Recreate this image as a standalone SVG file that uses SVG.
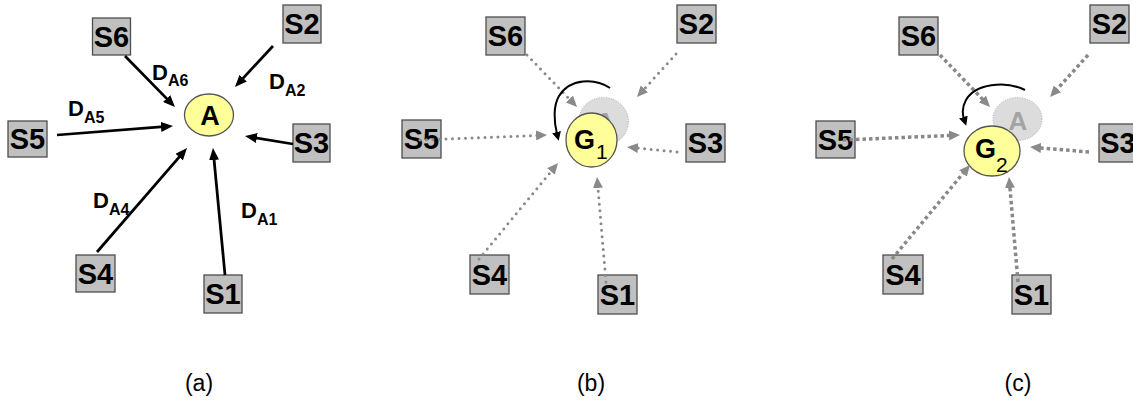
<svg xmlns="http://www.w3.org/2000/svg" width="1133" height="400" viewBox="0 0 1133 400">
  <style>
    .box { fill: #c0c0c0; stroke: #4d4d4d; stroke-width: 1.3; }
    .blab { font-family: "Liberation Sans", Arial, sans-serif; font-weight: bold; font-size: 29px; fill: #000; text-anchor: middle; }
    .hub { fill: #ffff99; stroke: #555; stroke-width: 1.3; }
    .ghost { fill: #dcdcdc; stroke: #a8a8a8; stroke-width: 1; stroke-dasharray: 1 1.5; }
    .hubtxt { font-family: "Liberation Sans", Arial, sans-serif; font-weight: bold; font-size: 27px; fill: #000; }
    .ghosttxt { font-family: "Liberation Sans", Arial, sans-serif; font-weight: bold; font-size: 26px; fill: #a3a3a3; text-anchor: middle; }
    .sub { font-family: "Liberation Sans", Arial, sans-serif; font-size: 21px; fill: #000; }
    .dl { font-family: "Liberation Sans", Arial, sans-serif; font-weight: bold; font-size: 22px; fill: #000; }
    .ds { font-family: "Liberation Sans", Arial, sans-serif; font-weight: bold; font-size: 16px; fill: #000; }
    .cap { font-family: "Liberation Sans", Arial, sans-serif; font-size: 23px; fill: #000; text-anchor: middle; }
    .solid { stroke: #000; stroke-width: 2.75; fill: none; marker-end: url(#headBlack); }
    .dots { stroke: #8a8a8a; stroke-width: 3; fill: none; stroke-linecap: round; stroke-dasharray: 0 6.5; marker-end: url(#headGray); }
    .dash { stroke: #888; stroke-width: 3.5; fill: none; stroke-dasharray: 3.5 3; marker-end: url(#headGray); }
    .turn { stroke: #000; stroke-width: 2; fill: none; marker-end: url(#headTurn); }
  </style>
  <defs>
    <marker id="headBlack" markerUnits="userSpaceOnUse" markerWidth="12" markerHeight="10" refX="3" refY="5" orient="auto">
      <path d="M0,0 L12,5 L0,10 z" fill="#000"/>
    </marker>
    <marker id="headGray" markerUnits="userSpaceOnUse" markerWidth="11" markerHeight="10" refX="3" refY="5" orient="auto">
      <path d="M0,0 L11,5 L0,10 z" fill="#8a8a8a"/>
    </marker>
    <marker id="headTurn" markerUnits="userSpaceOnUse" markerWidth="9" markerHeight="9" refX="2" refY="4.5" orient="auto">
      <path d="M0,0 L9,4.5 L0,9 z" fill="#000"/>
    </marker>
  </defs>

  <!-- panel (a): sources S1..S6 around node A -->
  <g id="a-S6"><rect class="box" x="92.5" y="18" width="38" height="37"/><text class="blab" x="111.5" y="47">S6</text></g>
  <g id="a-S2"><rect class="box" x="283" y="5" width="38" height="38"/><text class="blab" x="302" y="34">S2</text></g>
  <g id="a-S5"><rect class="box" x="8" y="121" width="39" height="36"/><text class="blab" x="27.5" y="149">S5</text></g>
  <g id="a-S3"><rect class="box" x="293" y="124" width="37" height="38"/><text class="blab" x="311.5" y="153">S3</text></g>
  <g id="a-S4"><rect class="box" x="76" y="255" width="39" height="37"/><text class="blab" x="95.5" y="284">S4</text></g>
  <g id="a-S1"><rect class="box" x="204" y="275" width="38" height="38"/><text class="blab" x="223" y="304">S1</text></g>
  <g id="a-A"><ellipse class="hub" cx="209" cy="115" rx="24.5" ry="21"/><text class="hubtxt" x="210" y="125" text-anchor="middle">A</text></g>

  <!-- panel (b): node A replaced by G1 -->
  <g id="b-S6"><rect class="box" x="486" y="17" width="39" height="38"/><text class="blab" x="505.5" y="46">S6</text></g>
  <g id="b-S2"><rect class="box" x="677" y="5" width="39" height="38"/><text class="blab" x="696.5" y="34">S2</text></g>
  <g id="b-S5"><rect class="box" x="402" y="120" width="39" height="38"/><text class="blab" x="421.5" y="149">S5</text></g>
  <g id="b-S3"><rect class="box" x="686" y="124" width="39" height="38"/><text class="blab" x="705.5" y="153">S3</text></g>
  <g id="b-S4"><rect class="box" x="470" y="255" width="39" height="39"/><text class="blab" x="489.5" y="285">S4</text></g>
  <g id="b-S1"><rect class="box" x="598" y="275" width="39" height="39"/><text class="blab" x="617.5" y="305">S1</text></g>
  <g id="b-A"><ellipse class="ghost" cx="603.5" cy="121.5" rx="25" ry="24"/><text class="ghosttxt" x="605" y="131">A</text></g>
  <g id="b-G1"><ellipse class="hub" cx="591.5" cy="140" rx="25.5" ry="27"/><text class="hubtxt" x="574" y="149">G</text><text class="sub" x="596" y="159">1</text></g>

  <!-- panel (c): node A replaced by G2 -->
  <g id="c-S6"><rect class="box" x="899" y="17" width="39" height="38"/><text class="blab" x="918.5" y="46">S6</text></g>
  <g id="c-S2"><rect class="box" x="1090" y="5" width="39" height="38"/><text class="blab" x="1109.5" y="34">S2</text></g>
  <g id="c-S5"><rect class="box" x="816" y="121" width="39" height="37"/><text class="blab" x="835.5" y="150">S5</text></g>
  <g id="c-S3"><rect class="box" x="1099" y="124" width="39" height="38"/><text class="blab" x="1118" y="153">S3</text></g>
  <g id="c-S4"><rect class="box" x="883" y="255" width="40" height="39"/><text class="blab" x="903" y="285">S4</text></g>
  <g id="c-S1"><rect class="box" x="1012" y="275" width="39" height="39"/><text class="blab" x="1031.5" y="305">S1</text></g>
  <g id="c-A"><ellipse class="ghost" cx="1017.5" cy="119" rx="24.5" ry="21.5"/><text class="ghosttxt" x="1018" y="130">A</text></g>
  <g id="c-G2"><ellipse class="hub" cx="992" cy="151" rx="28" ry="25"/><text class="hubtxt" x="975" y="158">G</text><text class="sub" x="996" y="172">2</text></g>

  <g id="connectors">
    <!-- (a) solid links -->
    <line class="solid" x1="125" y1="56" x2="168.7" y2="100.6"/>
    <line class="solid" x1="273" y1="46" x2="241.1" y2="80.4"/>
    <line class="solid" x1="57" y1="135" x2="164" y2="126.7"/>
    <line class="solid" x1="293" y1="144" x2="253.9" y2="137.5"/>
    <line class="solid" x1="97" y1="252" x2="181.1" y2="154.8"/>
    <line class="solid" x1="225" y1="275" x2="213.8" y2="157"/>
    <!-- (b) dotted links -->
    <line class="dots" x1="527" y1="55" x2="571.5" y2="101.2"/>
    <line class="dots" x1="676" y1="54" x2="642.4" y2="91.1"/>
    <line class="dots" x1="420" y1="140" x2="539" y2="135.4"/>
    <line class="dots" x1="677" y1="152" x2="635" y2="147.8"/>
    <line class="dots" x1="479" y1="259" x2="552.9" y2="169.2"/>
    <line class="dots" x1="606" y1="282" x2="597.7" y2="185"/>
    <path class="turn" d="M610,88 C595,78 570,78 559,96 C553,106 554,122 557,134"/>
    <!-- (c) dashed links -->
    <line class="dash" x1="940" y1="55" x2="984.5" y2="101.2"/>
    <line class="dash" x1="1088" y1="55" x2="1055.4" y2="91.1"/>
    <line class="dash" x1="843" y1="140" x2="952" y2="135.4"/>
    <line class="dash" x1="1089" y1="152" x2="1038" y2="147.7"/>
    <line class="dash" x1="892" y1="259" x2="964.9" y2="171.1"/>
    <line class="dash" x1="1018" y1="282" x2="1009.7" y2="185"/>
    <path class="turn" d="M1025,90 C1005,80 975,84 966,100 C962,107 962,113 964,119"/>
  </g>

  <!-- link labels of panel (a) -->
  <g id="labels">
    <text class="dl" x="152" y="80">D</text><text class="ds" x="168" y="86">A6</text>
    <text class="dl" x="269" y="89">D</text><text class="ds" x="285" y="96">A2</text>
    <text class="dl" x="68" y="116">D</text><text class="ds" x="84" y="123">A5</text>
    <text class="dl" x="93" y="208">D</text><text class="ds" x="109" y="215">A4</text>
    <text class="dl" x="241" y="218">D</text><text class="ds" x="257" y="225">A1</text>
  </g>

  <text class="cap" x="199" y="391">(a)</text>
  <text class="cap" x="591" y="391">(b)</text>
  <text class="cap" x="1018" y="391">(c)</text>
</svg>
